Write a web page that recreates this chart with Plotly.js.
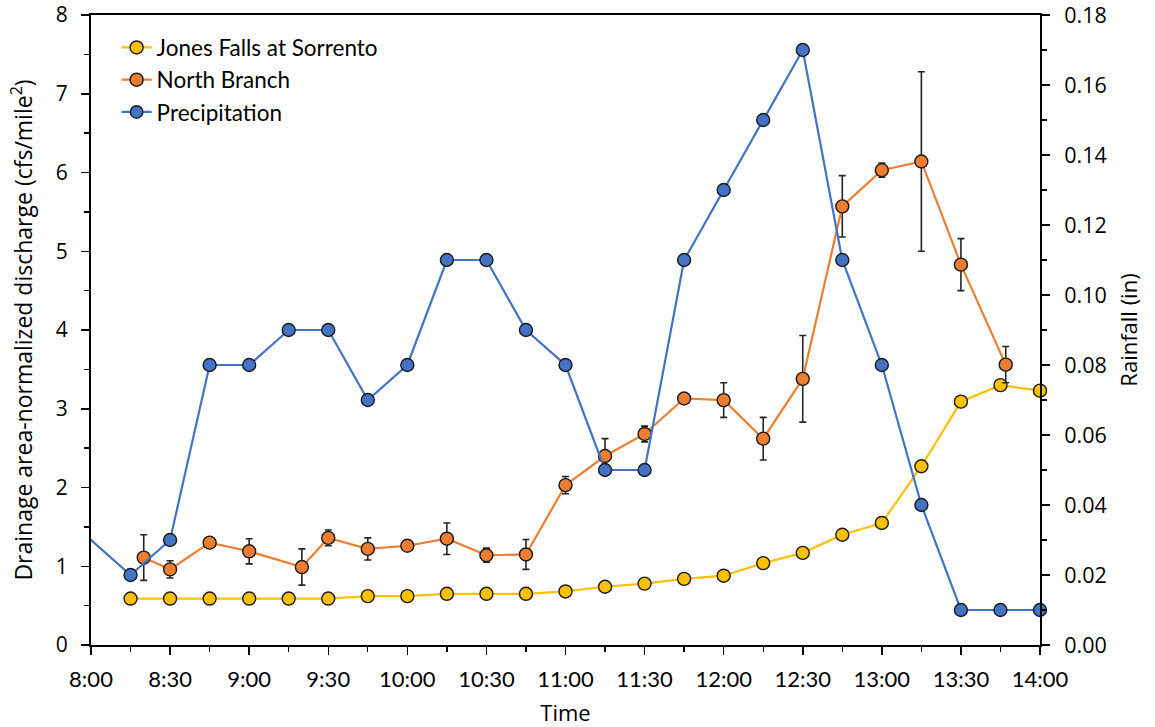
<!DOCTYPE html>
<html>
<head>
<meta charset="utf-8">
<script src="https://cdn.plot.ly/plotly-3.0.1.min.js"></script>
<style>html,body{margin:0;padding:0;background:#fff;}#chart{width:1155px;height:727px;}</style>
</head>
<body>
<div id="chart"></div>
<script>
// ---- Data ----
const jonesTimes = ["08:15","08:30","08:45","09:00","09:15","09:30","09:45","10:00","10:15","10:30","10:45","11:00","11:15","11:30","11:45","12:00","12:15","12:30","12:45","13:00","13:15","13:30","13:45","14:00"];
const jonesValues = [0.59,0.59,0.59,0.59,0.59,0.59,0.62,0.62,0.65,0.65,0.65,0.68,0.74,0.78,0.84,0.88,1.04,1.17,1.40,1.55,2.27,3.09,3.30,3.23];

const northTimes = ["08:20","08:30","08:45","09:00","09:20","09:30","09:45","10:00","10:15","10:30","10:45","11:00","11:15","11:30","11:45","12:00","12:15","12:30","12:45","13:00","13:15","13:30","13:47"];
const northValues = [1.11,0.96,1.30,1.19,0.99,1.36,1.22,1.26,1.35,1.14,1.15,2.03,2.40,2.68,3.13,3.11,2.62,3.38,5.57,6.03,6.14,4.83,3.56];
const northErrors = [0.29,0.11,0.06,0.16,0.23,0.10,0.14,0.04,0.20,0.09,0.19,0.11,0.22,0.10,0.05,0.22,0.27,0.55,0.39,0.09,1.14,0.33,0.23];

const precipTimes = ["07:45","08:15","08:30","08:45","09:00","09:15","09:30","09:45","10:00","10:15","10:30","10:45","11:00","11:15","11:30","11:45","12:00","12:15","12:30","12:45","13:00","13:15","13:30","13:45","14:00"];
const precipValues = [0.04,0.02,0.03,0.08,0.08,0.09,0.09,0.07,0.08,0.11,0.11,0.09,0.08,0.05,0.05,0.11,0.13,0.15,0.17,0.11,0.08,0.04,0.01,0.01,0.01];

const xTickLabels = ["8:00","8:30","9:00","9:30","10:00","10:30","11:00","11:30","12:00","12:30","13:00","13:30","14:00"];
const rainTicks = [0, 0.02, 0.04, 0.06, 0.08, 0.10, 0.12, 0.14, 0.16, 0.18];

// ---- Helpers ----
const day = "2020-01-01 ";
const toX = t => day + t + ":00";
const LATO = "Lato, 'Open Sans', sans-serif";
const OPEN = "'Open Sans', Lato, sans-serif";
const markerLine = {color: "#1a1a1a", width: 1.4};

const xStart = toX("08:00");
const xEnd = toX("14:00");

const traces = [
  {
    name: "Jones Falls at Sorrento",
    x: jonesTimes.map(toX), y: jonesValues,
    type: "scatter", mode: "lines+markers",
    line: {color: "#FFC000", width: 2.2},
    marker: {color: "#FFC000", size: 13, opacity: 1, line: markerLine},
    cliponaxis: false, yaxis: "y"
  },
  {
    name: "North Branch",
    x: northTimes.map(toX), y: northValues,
    type: "scatter", mode: "lines+markers",
    line: {color: "#ED7D31", width: 2.2},
    marker: {color: "#ED7D31", size: 13, opacity: 1, line: markerLine},
    error_y: {type: "data", array: northErrors, visible: true, color: "#262626", thickness: 1.6, width: 3.5},
    cliponaxis: false, yaxis: "y"
  },
  {
    name: "Precipitation",
    x: precipTimes.map(toX), y: precipValues,
    type: "scatter", mode: "lines+markers",
    line: {color: "#4472C4", width: 2.2},
    marker: {color: "#4472C4", size: precipTimes.map(t => (toX(t) < xStart ? 0 : 13)), opacity: 1, sizemode: "diameter", line: markerLine},
    cliponaxis: false, yaxis: "y2"
  }
];

const layout = {
  width: 1155, height: 727,
  margin: {l: 91, r: 115, t: 15, b: 82},
  paper_bgcolor: "#ffffff", plot_bgcolor: "#ffffff",
  font: {family: OPEN, size: 19, color: "#000"},
  showlegend: true,
  legend: {
    x: 0.027, y: 0.982, xanchor: "left", yanchor: "top",
    bgcolor: "rgba(0,0,0,0)", font: {family: LATO, size: 22.5, color: "#000"},
    tracegroupgap: 0, itemwidth: 30
  },
  xaxis: {
    type: "date",
    range: [xStart, xEnd],
    tickmode: "array",
    tickvals: xTickLabels.map(l => toX(l.length === 4 ? "0" + l : l)),
    ticktext: xTickLabels,
    ticks: "outside", ticklen: 8, tickwidth: 1.5, tickcolor: "#000",
    ticklabelstandoff: 6, ticklabeloverflow: "allow",
    minor: {dtick: 15 * 60 * 1000, tick0: xStart, ticks: "outside", ticklen: 5, tickwidth: 1.3, tickcolor: "#000", showgrid: false},
    showline: true, linecolor: "#000", linewidth: 2, mirror: true,
    showgrid: false, zeroline: false,
    tickfont: {family: LATO, size: 22},
    title: {text: "Time", font: {family: OPEN, size: 22}, standoff: 14}
  },
  yaxis: {
    range: [0, 8], dtick: 1, tick0: 0,
    ticks: "outside", ticklen: 8, tickwidth: 1.5, tickcolor: "#000",
    ticklabelstandoff: 9, ticklabeloverflow: "allow",
    minor: {dtick: 0.5, ticks: "outside", ticklen: 5, tickwidth: 1.3, tickcolor: "#000", showgrid: false},
    showline: true, linecolor: "#000", linewidth: 2,
    showgrid: false, zeroline: false,
    tickfont: {family: OPEN, size: 21},
    title: {text: "Drainage area-normalized discharge (cfs/mile<sup>2</sup>)", font: {family: OPEN, size: 23}, standoff: 17}
  },
  yaxis2: {
    overlaying: "y", side: "right",
    range: [0, 0.18],
    tickmode: "array", tickvals: rainTicks, ticktext: rainTicks.map(v => v.toFixed(2)),
    ticks: "outside", ticklen: 8, tickwidth: 1.5, tickcolor: "#000",
    ticklabelstandoff: 10, ticklabeloverflow: "allow",
    minor: {dtick: 0.01, tick0: 0, ticks: "outside", ticklen: 5, tickwidth: 1.3, tickcolor: "#000", showgrid: false},
    showline: true, linecolor: "#000", linewidth: 2,
    showgrid: false, zeroline: false,
    tickfont: {family: OPEN, size: 21.5},
    title: {text: "Rainfall (in)", font: {family: OPEN, size: 22}, standoff: 16}
  }
};

Plotly.newPlot("chart", traces, layout, {displayModeBar: false, staticPlot: true});
</script>
</body>
</html>
